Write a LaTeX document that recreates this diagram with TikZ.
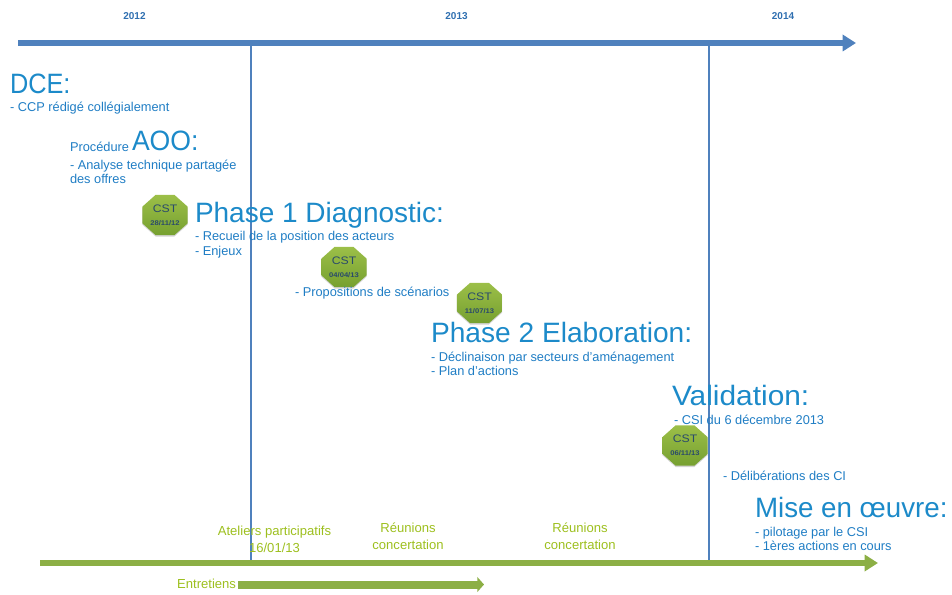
\documentclass[tikz,border=0pt]{standalone}
\usepackage{fontspec}
\setmainfont{Liberation Sans}
\usetikzlibrary{shapes.geometric,shadows,arrows.meta}
\definecolor{axisblue}{HTML}{4F81BD}
\definecolor{axisgreen}{HTML}{8CAF45}
\definecolor{titleblue}{HTML}{1C8AC9}
\definecolor{bodyblue}{HTML}{1F7DC4}
\definecolor{labelgreen}{HTML}{9DBF1E}
\definecolor{octdark}{HTML}{76A030}
\definecolor{octlight}{HTML}{9CBF48}
\definecolor{octtext}{HTML}{2A4A6B}
\definecolor{yeartext}{HTML}{2F6FB0}
\tikzset{
  x=0.75pt,y=-0.75pt,
  every node/.style={inner sep=0pt,outer sep=0pt},
  yearlabel/.style={font=\fontsize{7.5}{9}\selectfont\bfseries,text=yeartext},
  titletext/.style={anchor=base west,font=\fontsize{21}{23}\selectfont,text=titleblue},
  bodytext/.style={anchor=west,align=left,font=\fontsize{9.6}{10.8}\selectfont,text=bodyblue},
  greentext/.style={align=center,font=\fontsize{9.8}{12.4}\selectfont,text=labelgreen},
  cstoct/.style={regular polygon,regular polygon sides=8,minimum size=36pt,xscale=1.02,yscale=.91,
    top color=octlight,bottom color=octdark,drop shadow={shadow xshift=0pt,shadow yshift=-1pt,opacity=.35},
    align=center,text=octtext},
  axisline/.style={draw=axisblue,line width=1.5pt},
  bluearrow/.style={draw=axisblue,line width=4pt,-{Triangle[length=10pt,width=12pt]}},
  greenarrow/.style={draw=axisgreen,line width=4pt,-{Triangle[length=10pt,width=12pt]}},
  greenbar/.style={draw=axisgreen,line width=6pt,drop shadow={shadow xshift=0pt,shadow yshift=-1pt,opacity=.25},-{Triangle[length=5pt,width=11pt]}},
}
\newcommand{\cstlabel}[1]{{\fontsize{9}{10}\selectfont CST}\\[-1pt]{\fontsize{5.6}{7}\selectfont\bfseries #1}}
\begin{document}
\begin{tikzpicture}
\useasboundingbox (0,0) rectangle (952,595);
\coordinate (blueS) at (18,43);
\coordinate (blueE) at (856,43);
\coordinate (greenS) at (40,563);
\coordinate (greenE) at (878,563);
\coordinate (barS) at (238,584.5);
\coordinate (barE) at (484,584.5);
\coordinate (vaT) at (251,43);
\coordinate (vaB) at (251,563);
\coordinate (vbT) at (708.5,43);
\coordinate (vbB) at (708.5,563);
% CST behind the second rule
\node[cstoct] (cstd) at (685,445.5) {\cstlabel{06/11/13}};
\draw[axisline] (vaT) -- (vaB);
\draw[axisline] (vbT) -- (vbB);
\draw[bluearrow] (blueS) -- (blueE);
\draw[greenarrow] (greenS) -- (greenE);
\draw[greenbar] (barS) -- (barE);
\node[yearlabel] (y12) at (134.5,16.5) {2012};
\node[yearlabel] (y13) at (456.5,16.5) {2013};
\node[yearlabel] (y14) at (783,16.5) {2014};
\node[titletext,xscale=.905] (dce) at (10,94) {DCE:};
\node[bodytext] (dceb) at (10,108.5) {- CCP rédigé collégialement};
\node[bodytext] (proc) at (70,146.5) {Procédure};
\node[titletext,xscale=.95] (aoo) at (132,150.5) {AOO:};
\node[bodytext] (aoob) at (70,172) {- Analyse technique partagée\\des offres};
\node[cstoct] (csta) at (165,215) {\cstlabel{28/11/12}};
\node[titletext] (ph1) at (195,222.5) {Phase 1 Diagnostic:};
\node[bodytext] (ph1b) at (195,244.5) {- Recueil de la position des acteurs\\- Enjeux};
\node[cstoct] (cstb) at (344,267) {\cstlabel{04/04/13}};
\node[bodytext] (prop) at (295,293.5) {- Propositions de scénarios};
\node[cstoct] (cstc) at (479.5,303) {\cstlabel{11/07/13}};
\node[titletext,xscale=1.005] (ph2) at (431,342.5) {Phase 2 Elaboration:};
\node[bodytext] (ph2b) at (431,364) {- Déclinaison par secteurs d'aménagement\\- Plan d'actions};
\node[titletext,xscale=1.067] (val) at (672,405) {Validation:};
\node[bodytext] (valb) at (674,419.5) {- CSI du 6 décembre 2013};
\node[bodytext] (deli) at (723,476) {- Délibérations des CI};
\node[titletext,xscale=.99] (mise) at (755,517) {Mise en œuvre:};
\node[bodytext] (miseb) at (755,539) {- pilotage par le CSI\\- 1ères actions en cours};
\node[greentext] (atel) at (274.5,539.5) {Ateliers participatifs\\16/01/13};
\node[greentext] (reua) at (408,536) {Réunions\\concertation};
\node[greentext] (reub) at (580,536) {Réunions\\concertation};
\node[greentext,anchor=east] (entr) at (236,584) {Entretiens};
\end{tikzpicture}
\end{document}
